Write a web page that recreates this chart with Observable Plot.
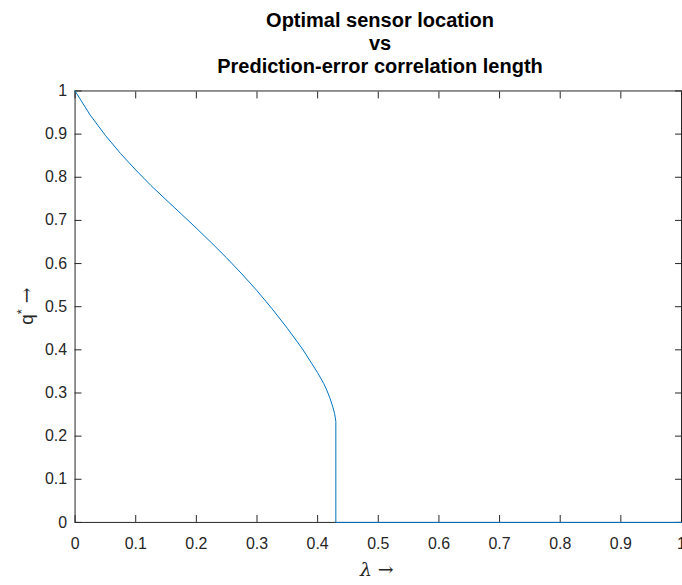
<!DOCTYPE html>
<html>
<head>
<meta charset="utf-8">
<script src="https://cdn.jsdelivr.net/npm/d3@7"></script>
<script src="https://cdn.jsdelivr.net/npm/@observablehq/plot@0.6"></script>
<style>
  html, body { margin: 0; padding: 0; background: #fff; }
  #wrap { position: relative; width: 682px; height: 585px; overflow: hidden; background: #fff; }
  #title { position: absolute; left: 75px; width: 610px; top: 9px; text-align: center;
           font-family: "Liberation Sans", Arial, sans-serif; font-weight: bold; font-size: 20px;
           line-height: 23px; color: #000; z-index: 2; }
  #chart { position: absolute; left: 0; top: 0; }
</style>
</head>
<body>
<div id="wrap">
  <div id="chart"></div>
  <div id="title">Optimal sensor location<br>vs<br>Prediction-error correlation length</div>
</div>
<script>
// Data
const lambda = [0, 0.025, 0.05, 0.075, 0.1, 0.125, 0.15, 0.175, 0.2, 0.225, 0.25, 0.275, 0.3, 0.325, 0.35, 0.375, 0.4, 0.41, 0.415, 0.42, 0.425, 0.428, 0.43, 0.43, 1];
const qstar  = [1, 0.944, 0.897, 0.855, 0.817, 0.781, 0.748, 0.715, 0.682, 0.648, 0.613, 0.576, 0.537, 0.495, 0.45, 0.402, 0.347, 0.322, 0.307, 0.289, 0.268, 0.252, 0.234, 0, 0];
const xTicks = [0, 0.1, 0.2, 0.3, 0.4, 0.5, 0.6, 0.7, 0.8, 0.9, 1];
const yTicks = [0, 0.1, 0.2, 0.3, 0.4, 0.5, 0.6, 0.7, 0.8, 0.9, 1];

const data = lambda.map((l, i) => ({lambda: l, q: qstar[i]}));
const axisColor = "#262626";
const blank = () => "";
const fmt = d => String(d);

const plot = Plot.plot({
  width: 686,
  height: 585,
  marginLeft: 75,
  marginRight: 1,
  marginTop: 91,
  marginBottom: 60,
  x: {domain: [0, 1]},
  y: {domain: [0, 1]},
  style: {fontFamily: "'Liberation Sans', Arial, sans-serif", fontSize: "16px", color: axisColor, background: "transparent", overflow: "visible"},
  marks: [
    Plot.frame({stroke: axisColor, strokeWidth: 1}),
    Plot.axisX(xTicks, {anchor: "bottom", tickSize: 7, dy: -7, tickFormat: blank, label: null, stroke: axisColor}),
    Plot.axisX(xTicks, {anchor: "top", tickSize: 7, dy: 7, tickFormat: blank, label: null, stroke: axisColor}),
    Plot.axisY(yTicks, {anchor: "left", tickSize: 7, dx: 7, tickFormat: blank, label: null, stroke: axisColor}),
    Plot.axisY(yTicks, {anchor: "right", tickSize: 7, dx: -7, tickFormat: blank, label: null, stroke: axisColor}),
    Plot.axisX(xTicks, {anchor: "bottom", tickSize: 0, tickPadding: 15, tickFormat: fmt, label: null, fill: axisColor, fontSize: 16}),
    Plot.axisY(yTicks, {anchor: "left", tickSize: 0, tickPadding: 8, tickFormat: fmt, label: null, fill: axisColor, fontSize: 16}),
    Plot.line(data, {x: "lambda", y: "q", stroke: "#0072BD", strokeWidth: 1})
  ]
});
document.getElementById("chart").appendChild(plot);

const svg = d3.select(plot);
// x label
const xl = svg.append("text")
  .attr("x", 379).attr("y", 579)
  .attr("text-anchor", "middle")
  .attr("fill", axisColor)
  .style("font-size", "19px");
xl.append("tspan").style("font-family", "'DejaVu Serif', 'Liberation Serif', serif").style("font-style", "italic").text("λ");
xl.append("tspan").style("font-family", "'DejaVu Serif', 'Liberation Serif', serif").text(" →");

// y label
const yl = svg.append("text")
  .attr("transform", "translate(33,308) rotate(-90)")
  .attr("text-anchor", "middle")
  .attr("fill", axisColor)
  .style("font-size", "19px");
yl.append("tspan").style("font-family", "'Liberation Sans', Arial, sans-serif").text("q");
yl.append("tspan").style("font-family", "'Liberation Sans', Arial, sans-serif").style("font-size", "13px").attr("dy", "-7").text("*");
yl.append("tspan").style("font-family", "'DejaVu Serif', 'Liberation Serif', serif").attr("dy", "7").text(" →");
</script>
</body>
</html>
